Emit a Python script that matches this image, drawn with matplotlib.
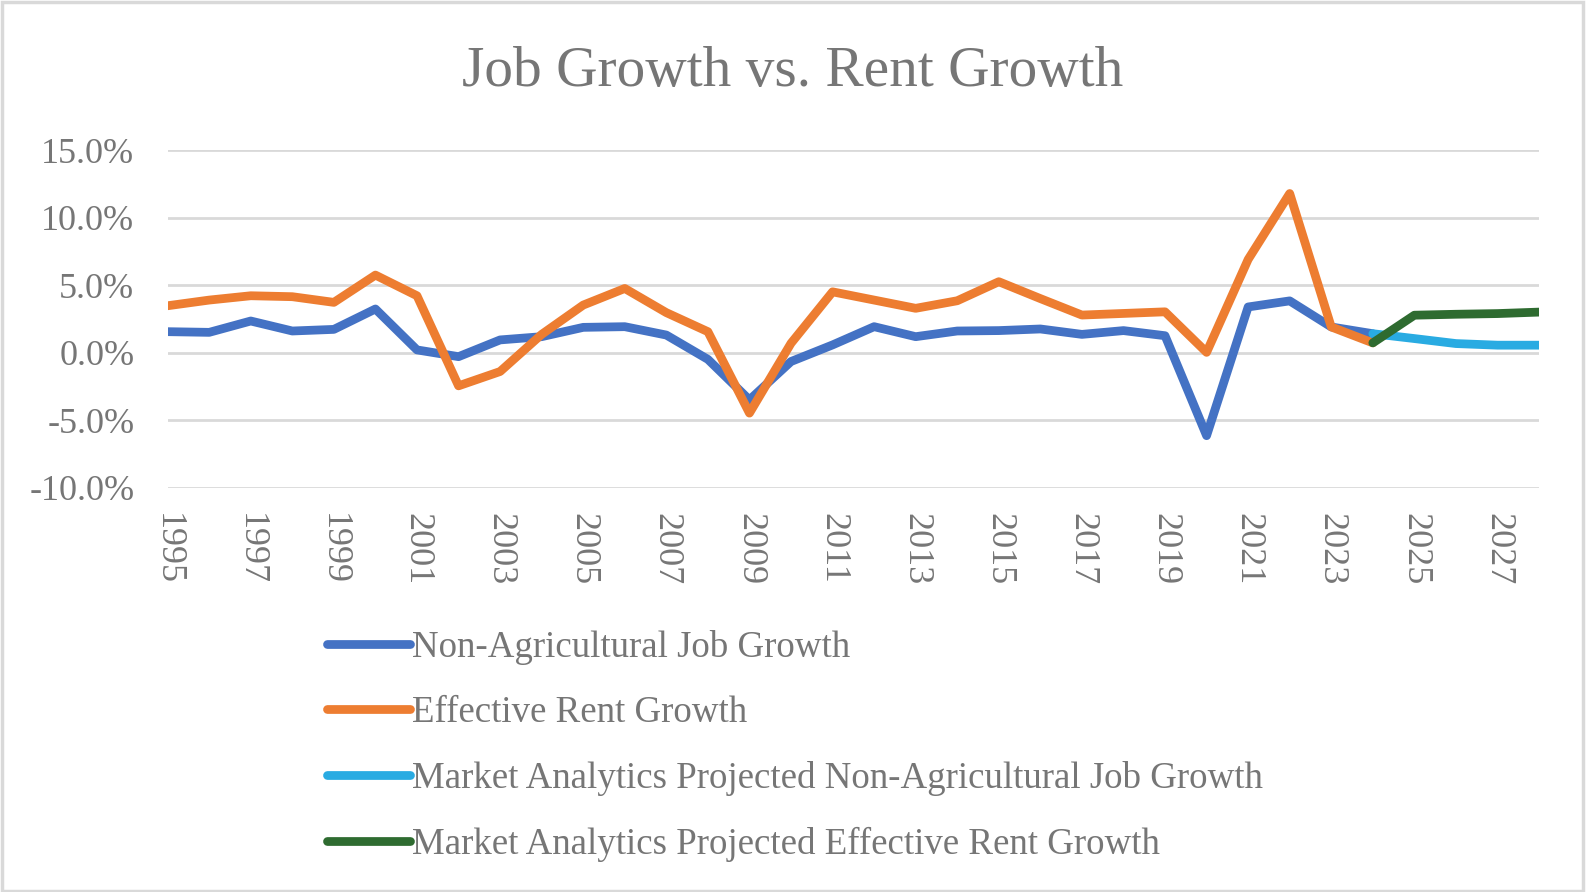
import numpy as np
import matplotlib.pyplot as plt
from matplotlib.patches import Rectangle
from matplotlib.ticker import FuncFormatter

# data (percent)
years_hist = list(range(1995, 2025))
job_growth = [1.55, 1.5, 2.34, 1.6, 1.72, 3.23, 0.2, -0.3, 0.94, 1.18,
              1.87, 1.92, 1.3, -0.5, -3.5, -0.66, 0.57, 1.92, 1.18, 1.6,
              1.63, 1.75, 1.35, 1.63, 1.25, -6.15, 3.38, 3.83, 1.9, 1.4]
rent_growth = [3.47, 3.89, 4.21, 4.14, 3.72, 5.74, 4.21, -2.46, -1.4, 1.35,
               3.52, 4.75, 2.96, 1.55, -4.48, 0.69, 4.5, 3.89, 3.28, 3.84,
               5.25, 4.0, 2.78, 2.9, 3.02, 0.02, 6.9, 11.78, 1.9, 0.72]
years_proj = list(range(2024, 2029))
proj_job = [1.4, 1.04, 0.67, 0.55, 0.55]
proj_rent = [0.72, 2.77, 2.84, 2.89, 3.0]

labels = ['Non-Agricultural Job Growth',
          'Effective Rent Growth',
          'Market Analytics Projected Non-Agricultural Job Growth',
          'Market Analytics Projected Effective Rent Growth']
colors = ['#4472C4', '#ED7D31', '#29ABE2', '#2E6B30']

plt.rcParams['font.family'] = ['Liberation Serif', 'DejaVu Serif']
txt = '#767676'

fig = plt.figure(figsize=(15.86, 8.92), dpi=100)
ax = fig.add_axes([0.1057, 0.4533, 0.9704 - 0.1057, 0.8318 - 0.4533])

series = [(years_hist, job_growth), (years_hist, rent_growth),
          (years_proj, proj_job), (years_proj, proj_rent)]
for (xs, ys), c, lab in zip(series, colors, labels):
    ax.plot(xs, ys, color=c, lw=6.3, label=lab,
            solid_joinstyle='round', solid_capstyle='round')

ax.set_xlim(1995, 2028)
ax.set_ylim(-10, 15)
ax.set_yticks(np.arange(-10, 16, 5))
ax.yaxis.set_major_formatter(FuncFormatter(lambda v, p: f'{v:.1f}%'))
ax.set_xticks(range(1995, 2028, 2))
ax.grid(axis='y', color='#d9d9d9', lw=2)
ax.set_axisbelow(True)
for s in ax.spines.values():
    s.set_visible(False)
ax.tick_params(axis='both', length=0, labelsize=26, labelcolor=txt)
ax.tick_params(axis='y', pad=24)
ax.tick_params(axis='x', pad=18)
for t in ax.get_xticklabels():
    t.set_rotation(270)

fig.text(0.5, 0.904, 'Job Growth vs. Rent Growth', ha='center',
         va='baseline', fontsize=41.3, color=txt)

leg = fig.legend(loc='upper left', bbox_to_anchor=(327 / 1586, 1 - 630 / 892),
                 frameon=False, fontsize=26.6, handlelength=2.25,
                 handletextpad=0.06, labelspacing=0.835, borderpad=0,
                 borderaxespad=0)
for t in leg.get_texts():
    t.set_color(txt)

fig.patches.append(Rectangle((0.001, 0.001), 0.997, 0.997, transform=fig.transFigure,
                             fill=False, edgecolor='#d9d9d9', lw=2.5))

fig.savefig('out.png', dpi=100)
